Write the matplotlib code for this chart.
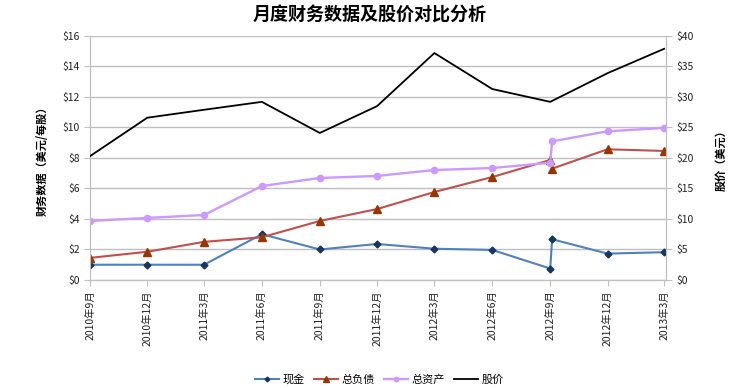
import matplotlib
matplotlib.use("Agg")
import matplotlib.pyplot as plt
import matplotlib.dates as mdates
from matplotlib.ticker import FuncFormatter, MultipleLocator
from datetime import date
import numpy as np

plt.rcParams['font.family'] = ['Noto Sans CJK SC', 'DejaVu Sans']

# 数据 (2012年9月有两个数据点)
dates = [date(2010, 9, 1), date(2010, 12, 1), date(2011, 3, 1), date(2011, 6, 1),
         date(2011, 9, 1), date(2011, 12, 1), date(2012, 3, 1), date(2012, 6, 1),
         date(2012, 9, 1), date(2012, 9, 4), date(2012, 12, 1), date(2013, 3, 1)]
cash = [1.0, 1.0, 1.0, 3.0, 2.0, 2.36, 2.05, 1.97, 0.75, 2.67, 1.73, 1.82]
liabilities = [1.45, 1.85, 2.5, 2.8, 3.87, 4.65, 5.77, 6.75, 7.87, 7.3, 8.57, 8.46]
assets = [3.87, 4.07, 4.26, 6.16, 6.69, 6.82, 7.21, 7.34, 7.69, 9.09, 9.75, 9.97]
price = [20.3, 26.6, 27.9, 29.2, 24.1, 28.5, 37.2, 31.3, 29.2, np.nan, 33.9, 37.9]

tick_dates = [date(2010, 9, 1), date(2010, 12, 1), date(2011, 3, 1), date(2011, 6, 1),
              date(2011, 9, 1), date(2011, 12, 1), date(2012, 3, 1), date(2012, 6, 1),
              date(2012, 9, 1), date(2012, 12, 1), date(2013, 3, 1)]
tick_labels = ['2010年9月', '2010年12月', '2011年3月', '2011年6月', '2011年9月', '2011年12月',
               '2012年3月', '2012年6月', '2012年9月', '2012年12月', '2013年3月']

grey = '#BFBFBF'

fig = plt.figure(figsize=(7.39, 3.88), dpi=100)
ax = fig.add_axes([0.1218, 0.2784, 0.7795, 0.6289])
ax2 = ax.twinx()

p = np.array([price[i] for i in range(len(dates)) if not np.isnan(price[i])])
pd_ = [dates[i] for i in range(len(dates)) if not np.isnan(price[i])]

l1, = ax.plot(dates, cash, color='#4F81BD', lw=1.5, marker='D', ms=3.5,
              mfc='#17375E', mec='#17375E', zorder=4)
l2, = ax.plot(dates, liabilities, color='#C0504D', lw=1.5, marker='^', ms=5.5,
              mfc='#953700', mec='#953700', zorder=4)
l3, = ax.plot(dates, assets, color='#CC99FF', lw=1.7, marker='o', ms=4.5,
              mfc='#CC99FF', mec='#CC99FF', zorder=4)
l4, = ax2.plot(pd_, p, color='black', lw=1.3, zorder=4)

ax.set_ylim(0, 16)
ax.yaxis.set_major_locator(MultipleLocator(2))
ax2.set_ylim(0, 40)
ax2.yaxis.set_major_locator(MultipleLocator(5))
fmt = FuncFormatter(lambda v, pos: '$%d' % v)
ax.yaxis.set_major_formatter(fmt)
ax2.yaxis.set_major_formatter(fmt)

ax.set_xlim(mdates.date2num(date(2010, 9, 1)), mdates.date2num(date(2013, 3, 4)))
ax.set_xticks([mdates.date2num(d) for d in tick_dates])
ax.set_xticklabels(tick_labels, rotation=90, fontsize=7.5)

ax.grid(axis='y', color=grey, lw=1)
ax.set_axisbelow(True)

for a in (ax, ax2):
    for s in a.spines.values():
        s.set_color(grey)
    a.spines['top'].set_visible(False)
    a.tick_params(colors=grey, labelcolor='#222222', labelsize=7.5, length=4)

ax.set_ylabel('财务数据（美元/每股）', fontsize=8, fontweight='bold', labelpad=10)
ax2.set_ylabel('股价（美元）', fontsize=8, fontweight='bold', rotation=90, labelpad=15)

fig.suptitle('月度财务数据及股价对比分析', fontsize=13, fontweight='bold', y=0.985)

fig.legend([l1, l2, l3, l4], ['现金', '总负债', '总资产', '股价'],
           loc='center', bbox_to_anchor=(0.513, 0.023), ncol=4, frameon=False,
           fontsize=8, handlelength=2.2, handletextpad=0.3, columnspacing=0.8,
           markerscale=0.7)

fig.savefig('out.png', dpi=100)
